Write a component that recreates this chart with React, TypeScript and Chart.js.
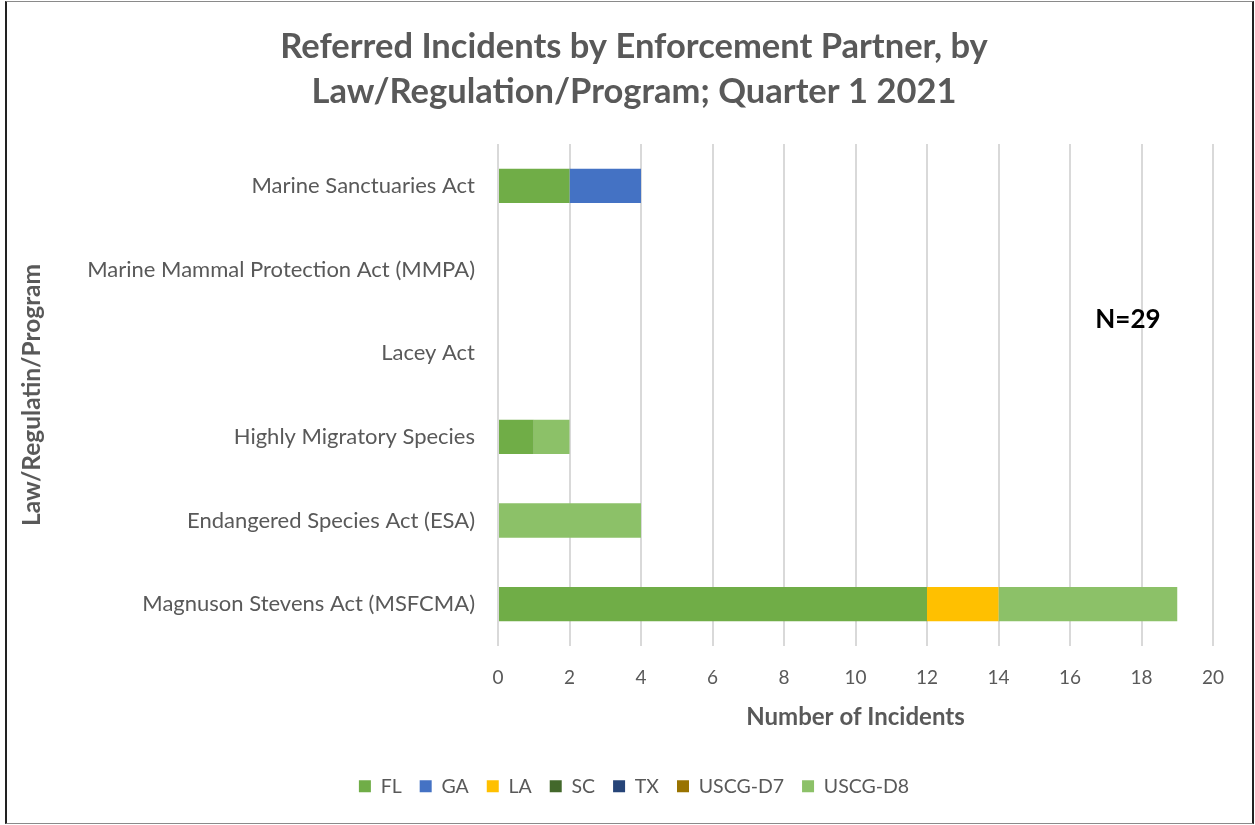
import React, { useEffect, useRef } from "react";
import { Chart, registerables } from "chart.js";

Chart.register(...registerables);

const categories = [
  "Marine Sanctuaries Act",
  "Marine Mammal Protection Act (MMPA)",
  "Lacey Act",
  "Highly Migratory Species",
  "Endangered Species Act (ESA)",
  "Magnuson Stevens Act (MSFCMA)",
];

const seriesNames = ["FL", "GA", "LA", "SC", "TX", "USCG-D7", "USCG-D8"];
const flValues = [2, 0, 0, 1, 0, 12];
const gaValues = [2, 0, 0, 0, 0, 0];
const laValues = [0, 0, 0, 0, 0, 2];
const scValues = [0, 0, 0, 0, 0, 0];
const txValues = [0, 0, 0, 0, 0, 0];
const d7Values = [0, 0, 0, 0, 0, 0];
const d8Values = [0, 0, 0, 1, 4, 5];
const seriesColors = ["#70AD47", "#4472C4", "#FFC000", "#43682B", "#264478", "#997300", "#8CC168"];

const titleLines = [
  "Referred Incidents by Enforcement Partner, by",
  "Law/Regulation/Program; Quarter 1 2021",
];
const xTitle = "Number of Incidents";
const yTitle = "Law/Regulatin/Program";
const noteText = "N=29";

const FONT = "Lato, 'Open Sans', sans-serif";
const GRAY = "#595959";

const W = 1255;
const H = 825;
const PAD_LEFT = 17;
const PAD_RIGHT = 4;
const PAD_BOTTOM = 19;
const PLOT_LEFT = 498;
const PLOT_RIGHT = 1213;
const PLOT_BOTTOM = 646;

const notePlugin = {
  id: "note",
  afterDraw(chart: any) {
    const { ctx, scales } = chart;
    const x = scales.x.getPixelForValue(17.62);
    const y = scales.y.getPixelForValue(1.6);
    ctx.save();
    ctx.font = `bold 26px ${FONT}`;
    ctx.fillStyle = "#000000";
    ctx.textAlign = "center";
    ctx.textBaseline = "middle";
    ctx.fillText(noteText, x, y);
    ctx.restore();
  },
};

export default function App() {
  const ref = useRef<HTMLCanvasElement>(null);
  useEffect(() => {
    if (!ref.current) return;
    const all = [flValues, gaValues, laValues, scValues, txValues, d7Values, d8Values];
    const chart = new Chart(ref.current, {
      type: "bar",
      data: {
        labels: categories,
        datasets: seriesNames.map((name, i) => ({
          label: name,
          data: all[i],
          backgroundColor: seriesColors[i],
          borderWidth: 0,
          barPercentage: 0.41,
          categoryPercentage: 1,
        })),
      },
      options: {
        indexAxis: "y",
        animation: false,
        responsive: false,
        layout: { padding: { left: PAD_LEFT, right: PAD_RIGHT, top: 24, bottom: PAD_BOTTOM } },
        plugins: {
          title: {
            display: true,
            text: titleLines,
            color: GRAY,
            font: { family: FONT, size: 34.5, weight: "bold", lineHeight: "45px" },
            padding: { top: 0, bottom: 30 },
          },
          legend: {
            position: "bottom",
            labels: {
              color: GRAY,
              font: { family: FONT, size: 19.5 },
              boxWidth: 12,
              boxHeight: 12,
              padding: 18,
            },
          },
          tooltip: { enabled: false },
        },
        scales: {
          x: {
            stacked: true,
            min: 0,
            max: 20,
            afterFit(scale: any) {
              const lg = scale.chart.legend;
              scale.height = H - PAD_BOTTOM - (lg ? lg.height : 0) - PLOT_BOTTOM;
            },
            ticks: { stepSize: 2, color: GRAY, font: { family: FONT, size: 19 }, padding: 20 },
            grid: { color: "#d9d9d9", lineWidth: 2, drawTicks: false },
            border: { display: false },
            title: {
              display: true,
              text: xTitle,
              color: GRAY,
              font: { family: FONT, size: 24, weight: "bold" },
              padding: { top: 0, bottom: 27 },
            },
          },
          y: {
            stacked: true,
            afterFit(scale: any) {
              scale.width = PLOT_LEFT - PAD_LEFT;
            },
            ticks: { color: GRAY, font: { family: FONT, size: 22 }, padding: 23 },
            grid: { display: false, drawTicks: false },
            border: { display: false },
            title: {
              display: true,
              text: yTitle,
              color: GRAY,
              font: { family: FONT, size: 24.5, weight: "bold" },
              padding: { top: 0, bottom: 0 },
            },
          },
          spacer: {
            type: "linear",
            position: "right",
            display: true,
            afterFit(scale: any) {
              scale.width = W - PAD_RIGHT - PLOT_RIGHT;
            },
            ticks: { display: false },
            grid: { display: false, drawTicks: false },
            border: { display: false },
          },
        },
      },
      plugins: [notePlugin],
    });
    return () => chart.destroy();
  }, []);

  return (
    <div style={{ position: "fixed", left: 0, top: 0, width: W, height: H, background: "#fff" }}>
      <canvas ref={ref} width={W} height={H} style={{ position: "absolute", left: 0, top: 0 }} />
      <div
        style={{
          position: "absolute",
          left: 5,
          top: 1,
          width: 1245,
          height: 821,
          borderTop: "1px solid #8a8a8a",
          borderBottom: "1px solid #8a8a8a",
          borderLeft: "2px solid #222",
          borderRight: "2px solid #222",
          pointerEvents: "none",
        }}
      />
    </div>
  );
}
